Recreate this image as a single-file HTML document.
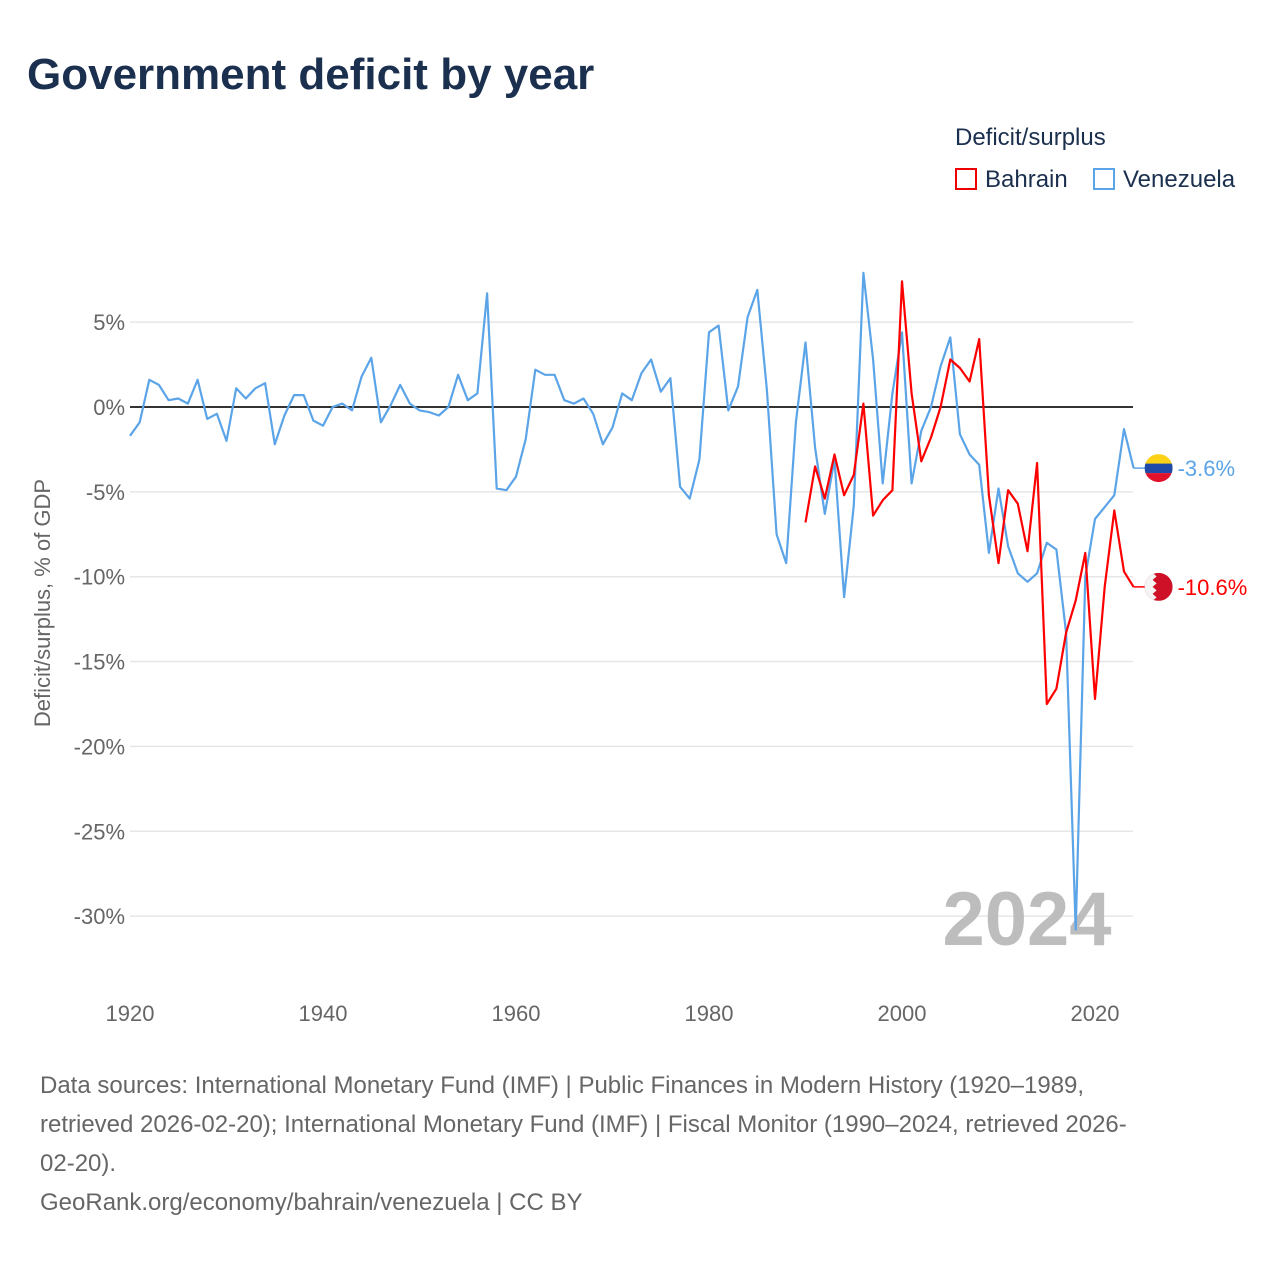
<!DOCTYPE html>
<html><head><meta charset="utf-8"><style>
body{margin:0;background:#fff;font-family:"Liberation Sans",sans-serif;}
#wrap{position:relative;width:1280px;height:1280px;overflow:hidden;}
.foot{position:absolute;left:40px;font-size:24px;color:#666;line-height:39px;white-space:nowrap;}
</style></head><body><div id="wrap">
<div style="position:absolute;left:27px;top:50px;font-size:44px;font-weight:bold;color:#1b2f4e;">Government deficit by year</div>
<div style="position:absolute;left:955px;top:124px;font-size:24px;color:#1b2f4e;">Deficit/surplus</div>
<div style="position:absolute;left:955px;top:166px;font-size:24px;color:#1b2f4e;"><span style="display:inline-block;width:22px;height:22px;border:2px solid #e00;box-sizing:border-box;vertical-align:-3px;margin-right:8px"></span>Bahrain</div>
<div style="position:absolute;left:1093px;top:166px;font-size:24px;color:#1b2f4e;"><span style="display:inline-block;width:22px;height:22px;border:2px solid #5ba4e8;box-sizing:border-box;vertical-align:-3px;margin-right:8px"></span>Venezuela</div>
<svg id="chart" width="1280" height="1060" style="position:absolute;left:0;top:0" font-family="Liberation Sans, sans-serif"></svg>
<div class="foot" style="top:1066px">Data sources: International Monetary Fund (IMF) | Public Finances in Modern History (1920–1989,<br>retrieved 2026-02-20); International Monetary Fund (IMF) | Fiscal Monitor (1990–2024, retrieved 2026-<br>02-20).</div>
<div class="foot" style="top:1183px">GeoRank.org/economy/bahrain/venezuela | CC BY</div>
</div>
<script>
const venStart = 1920;
const venValues = [-1.7,-0.9,1.6,1.3,0.4,0.5,0.2,1.6,-0.7,-0.4,-2.0,1.1,0.5,1.1,1.4,-2.2,-0.5,0.7,0.7,-0.8,-1.1,0.0,0.2,-0.2,1.8,2.9,-0.9,0.1,1.3,0.2,-0.2,-0.3,-0.5,0.0,1.9,0.4,0.8,6.7,-4.8,-4.9,-4.1,-1.9,2.2,1.9,1.9,0.4,0.2,0.5,-0.4,-2.2,-1.2,0.8,0.4,2.0,2.8,0.9,1.7,-4.7,-5.4,-3.1,4.4,4.8,-0.2,1.2,5.3,6.9,1.0,-7.5,-9.2,-0.9,3.8,-2.4,-6.3,-3.1,-11.2,-5.8,7.9,2.8,-4.5,0.8,4.4,-4.5,-1.4,0.0,2.4,4.1,-1.6,-2.8,-3.4,-8.6,-4.8,-8.2,-9.8,-10.3,-9.8,-8.0,-8.4,-13.3,-30.8,-10.0,-6.6,-5.9,-5.2,-1.3,-3.6];
const bhrStart = 1990;
const bhrValues = [-6.8,-3.5,-5.4,-2.8,-5.2,-4.0,0.2,-6.4,-5.5,-4.9,7.4,0.8,-3.2,-1.8,0.0,2.8,2.3,1.5,4.0,-5.2,-9.2,-4.9,-5.7,-8.5,-3.3,-17.5,-16.6,-13.3,-11.4,-8.6,-17.2,-10.6,-6.1,-9.7,-10.6];
const yTicks = [5,0,-5,-10,-15,-20,-25,-30];
const xTicks = [1920,1940,1960,1980,2000,2020];
const NS="http://www.w3.org/2000/svg";
const svg=document.getElementById('chart');
const X=yr=>130+(yr-1920)*9.65;
const Y=v=>407-v*16.97;
function mk(t,a){const e=document.createElementNS(NS,t);for(const k in a)e.setAttribute(k,a[k]);svg.appendChild(e);return e;}
yTicks.forEach(v=>{
  const g=mk('line',{x1:130,x2:1133,y1:Y(v),y2:Y(v),stroke:v===0?'#333':'#e6e6e6','stroke-width':v===0?2:1.5});
  
  
  const t=mk('text',{x:125,y:Y(v)+8,'text-anchor':'end','font-size':22,fill:'#666'});
  t.textContent=v+'%';
  
  
});
xTicks.forEach(yr=>{
  const t=mk('text',{x:X(yr),y:1021,'text-anchor':'middle','font-size':22,fill:'#666'});
  t.textContent=yr;
  
  
});
const yt=mk('text',{transform:'translate(50,603) rotate(-90)','text-anchor':'middle','font-size':22,fill:'#666'});
yt.textContent='Deficit/surplus, % of GDP';


const yr=mk('text',{x:1027,y:945,'text-anchor':'middle','font-size':76,'font-weight':'bold',fill:'#bdbdbd'});
yr.textContent='2024';


function line(start,vals,col,name){
  const d=vals.map((v,i)=>(i?'L':'M')+X(start+i).toFixed(1)+','+Y(v).toFixed(1)).join('');
  const p=mk('path',{d:d,fill:'none',stroke:col,'stroke-width':2.2,'stroke-linejoin':'round'});
  
  
}
line(venStart,venValues,'#5ba4e8','venezuela-line');
line(bhrStart,bhrValues,'#f00','bahrain-line');
function endLabel(vals,start,col,name,flag){
  const v=vals[vals.length-1],x=X(start+vals.length-1)+25,y=Y(v);
  const l=mk('line',{x1:x-25,x2:x,y1:y,y2:y,stroke:col,'stroke-width':1.5});
  
  
  const g=mk('g',{});
  
  
  g.innerHTML=flag(x,y);
  const t=mk('text',{x:x+19,y:y+8,'font-size':22,fill:col});
  t.textContent=v.toFixed(1)+'%';
  
  
}
endLabel(venValues,venStart,'#5ba4e8','venezuela',(x,y)=>`<clipPath id="cv"><circle cx="${x}" cy="${y}" r="14"/></clipPath><g clip-path="url(#cv)"><rect x="${x-14}" y="${y-14}" width="28" height="10" fill="#fcd116"/><rect x="${x-14}" y="${y-4.5}" width="28" height="9.5" fill="#1f4aa8"/><rect x="${x-14}" y="${y+5}" width="28" height="10" fill="#e0112b"/></g>`);
endLabel(bhrValues,bhrStart,'#f00','bahrain',(x,y)=>`<clipPath id="cb"><circle cx="${x}" cy="${y}" r="14"/></clipPath><g clip-path="url(#cb)"><rect x="${x-14}" y="${y-14}" width="28" height="28" fill="#ce1126"/><path d="M${x-14},${y-14}h8l4,3.5l-4,3.5l4,3.5l-4,3.5l4,3.5l-4,3.5l4,3.5l-4,3.5h-8z" fill="#f4f4f4"/></g>`);
</script></body></html>
